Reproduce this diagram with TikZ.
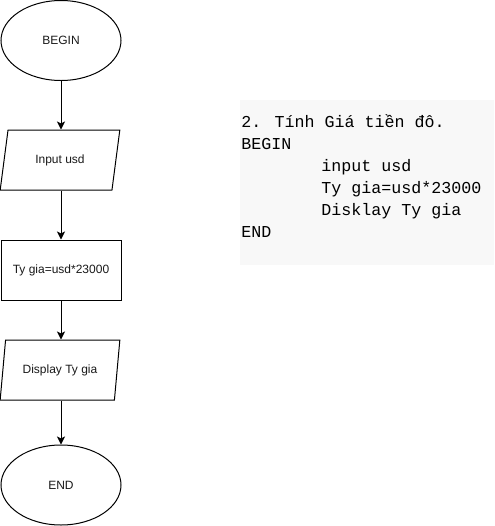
\documentclass[tikz,border=0pt]{standalone}
\usepackage{fontspec}
\setmainfont{Liberation Sans}
\newfontfamily\codefont{Liberation Mono}
\usetikzlibrary{shapes.geometric,arrows.meta}
\definecolor{codebg}{HTML}{F8F8F8}
\begin{document}
\begin{tikzpicture}[x=0.75pt,y=-0.75pt,
  every node/.style={font=\fontsize{9pt}{11pt}\selectfont, text=black!90},
  term/.style={draw, ellipse, line width=0.75pt, minimum width=90pt, minimum height=60pt, inner sep=0pt},
  io/.style={draw, trapezium, trapezium left angle=71.57, trapezium right angle=108.43,
    trapezium stretches=true, line width=0.75pt, minimum width=90pt, minimum height=45pt, inner sep=0pt},
  proc/.style={draw, rectangle, line width=0.75pt, minimum width=90pt, minimum height=45pt, inner sep=0pt},
  flow/.style={line width=0.75pt, -{Stealth[length=6pt,width=6pt,inset=1.5pt]}},
  code/.style={font=\codefont\fontsize{12.5pt}{16pt}\selectfont, text=black, anchor=base west, inner sep=0pt}
]
\useasboundingbox (0,0) rectangle (494,526);
\fill[codebg] (240,100) rectangle (494,265);

\node[term] (begin) at (61,40.5) {BEGIN};
\node[io] (input) at (60,160) {Input usd};
\node[proc] (calc) at (61,270) {Ty gia=usd*23000};
\node[io] (disp) at (60,370) {Display Ty gia};
\node[term] (end) at (61,485) {END};

\draw[flow] (begin.south) -- (begin.south |- input.north);
\draw[flow] (input.south -| calc.north) -- (calc.north);
\draw[flow] (calc.south) -- (calc.south |- disp.north);
\draw[flow] (disp.south -| end.north) -- (end.north);

\node[code] (l1) at (241,127) {2. Tính Giá tiền đô.};
\node[code] (l2) at (241,149) {BEGIN};
\node[code] (l3) at (321,171) {input usd};
\node[code] (l4) at (321,193) {Ty gia=usd*23000};
\node[code] (l5) at (321,215) {Disklay Ty gia};
\node[code] (l6) at (241,237) {END};
\end{tikzpicture}
\end{document}
